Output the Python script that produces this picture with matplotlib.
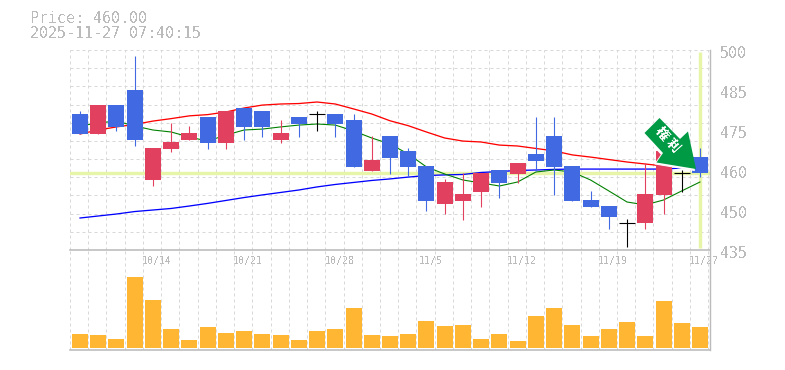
import matplotlib
matplotlib.use("Agg")
import matplotlib.pyplot as plt
from matplotlib.patches import Polygon

plt.rcParams['font.family'] = ['DejaVu Sans Mono']
plt.rcParams['text.antialiased'] = False

# ---- data ----
opens  = [479.2,472.7,482.1,487.0,457.75,467.8,470.75,478.2,469.8,481.15,480.2,470.75,478.2,479.2,479.2,477.25,460.7,472.05,467.2,462.3,450.0,450.9,453.85,461.0,459.7,466.2,472.05,462.3,451.25,449.3,443.8,443.8,452.9,460.0,465.2]
highs  = [480.2,482.1,482.1,498.05,468.15,476.3,475.3,478.2,480.2,481.15,480.2,477.25,478.2,480.2,479.2,479.2,472.05,472.05,468.15,462.3,458.1,460.0,460.0,461.0,463.3,478.2,478.2,462.3,454.2,449.3,445.1,463.3,467.2,461.0,468.15]
lows   = [472.7,472.7,473.7,468.8,455.8,466.85,470.75,467.8,467.8,470.75,471.7,469.8,471.7,473.7,471.7,462.0,460.7,459.7,458.7,447.7,446.7,444.75,449.0,451.9,456.8,460.7,452.9,450.9,449.0,441.8,436.0,441.8,446.7,453.85,458.7]
closes = [472.7,482.1,475.0,470.75,468.15,470.1,473.0,469.8,480.2,475.0,475.0,473.0,475.95,479.2,475.95,462.0,464.25,464.9,462.0,450.9,457.1,453.2,460.0,456.8,463.3,463.9,462.0,450.9,449.0,445.7,443.8,453.2,467.2,460.0,460.0]
ma_red   = [472.7,474.0,475.0,475.8,476.9,477.7,478.6,479.0,479.85,481.15,482.1,482.45,482.6,483.1,482.45,480.85,479.2,477.0,475.4,473.35,471.4,470.4,470.1,469.1,468.8,468.0,467.2,465.9,465.2,464.4,463.6,462.95,462.3,462.0,461.65]
ma_green = [475.3,476.3,476.9,475.3,474.0,473.35,471.7,470.4,472.35,474.0,474.3,475.0,475.6,475.95,475.6,473.7,471.4,469.45,466.2,462.0,459.7,457.75,456.8,455.8,457.1,460.35,461.0,460.35,457.75,454.2,450.6,449.65,451.25,454.2,457.1]
ma_blue  = [445.4,446.05,446.7,447.5,448.0,448.5,449.3,450.15,451.1,452.05,452.9,453.7,454.5,455.5,456.3,456.95,457.6,458.1,458.7,459.2,459.4,459.55,460.2,460.5,460.85,461.0,461.2,461.3,461.3,461.3,461.3,461.3,461.3,461.65,461.65]
volumes = [14,13,9,71,48,19,8,21,15,17,14,13,8,17,19,40,13,12,14,27,22,23,9,14,7,32,40,23,12,19,26,12,47,25,21]
price_ticks = [500,487,474,461,448,435]
price_labels = ['500','485','475','460','450','435']
date_idx = [4,9,14,19,24,29,34]
date_labels = ['10/14','10/21','10/28','11/5','11/12','11/19','11/27']
current_price = 460.0
title_lines = ['Price: 460.00','2025-11-27 07:40:15']
badge_text = '\u6a29\u5229'

# ---- style ----
W, H = 785, 370
BLUE, RED, ORANGE = '#4169E1', '#E2405F', '#FFB733'
LIME = '#E6F5A8'
GRID = '#D8D8D8'
AXC = '#BBBBBB'
TXT = '#BBBBBB'
px = 0.72
n = len(closes)
xs = list(range(n))
xlim = (-0.55, 34.55)
bw = 16 / 18.235

fig = plt.figure(figsize=(W/100, H/100), dpi=100, facecolor='white')
def axrect(l, t, r, b):
    return [l/W, 1-b/H, (r-l)/W, (b-t)/H]
ax = fig.add_axes(axrect(70, 50, 710, 250))
av = fig.add_axes(axrect(70, 250, 710, 349.5))
dash = (0, (3, 3))
for a in (ax, av):
    a.patch.set_visible(False)
    a.set_xlim(*xlim)
    a.set_xticks([])
    a.set_yticks([])
    for s in a.spines.values():
        s.set_visible(False)
    for i in range(n + 1):
        a.axvline(i - 0.55, color=GRID, lw=1.0*px, ls=dash, zorder=0)
ax.set_ylim(435, 500)
step = 65 / 11
for k in range(0, 11):
    ax.axhline(500 - k*step, color=GRID, lw=1.0*px, ls=dash, zorder=0)

ax.axhline(current_price, color=LIME, lw=3.4*px, zorder=1)
ax.plot([34, 34], [435.8, 499.5], color=LIME, lw=3.4*px, zorder=1, solid_capstyle='butt')
ax.plot(xs, ma_blue, color='#0000FF', lw=1.3*px, zorder=2)
ax.plot(xs, ma_red, color='#FF0000', lw=1.3*px, zorder=2)
ax.plot(xs, ma_green, color='#008000', lw=1.1*px, zorder=2)

for i, (o, h, l, c) in enumerate(zip(opens, highs, lows, closes)):
    col = 'black' if o == c else (RED if c > o else BLUE)
    ax.plot([i, i], [l, h], color=col, lw=1.1*px, zorder=3, solid_capstyle='butt')
    if o == c:
        ax.plot([i-bw/2, i+bw/2], [o, o], color='black', lw=1.1*px, zorder=3, solid_capstyle='butt')
    else:
        ax.bar(i, abs(c-o), bottom=min(o, c), width=bw, color=col, lw=0, zorder=4)

av.set_ylim(-1.5, 98)
av.bar(xs, volumes, width=bw, color=ORANGE, lw=0, zorder=3)

# frame lines
fig.add_artist(plt.Line2D([70/W, 710/W], [1-250/H]*2, color=AXC, lw=1.6*px))
fig.add_artist(plt.Line2D([70/W, 710/W], [1-349.5/H]*2, color=AXC, lw=1.6*px))
fig.add_artist(plt.Line2D([710.3/W]*2, [1-50/H, 1-350/H], color=AXC, lw=1.4*px))

# labels
for t, lab in zip(price_ticks, price_labels):
    ax.annotate(lab, (1, (t-435)/65), xycoords='axes fraction', xytext=(10*px, -4*px),
                textcoords='offset points', ha='left', va='center', color=TXT, fontsize=10.8)
for i, lab in zip(date_idx, date_labels):
    ax.annotate(lab, (i, 435), xycoords='data', xytext=(4*px, -11*px), textcoords='offset points',
                ha='center', va='center', color=TXT, fontsize=7.2, annotation_clip=False)
fig.text(30/W, 1-18.5/H, title_lines[0], color=TXT, fontsize=10.8, va='center', ha='left')
fig.text(30/W, 1-33/H, title_lines[1], color=TXT, fontsize=10.8, va='center', ha='left')

# arrow badge
pts_px = [(659.5,118),(644.5,133),(663,153),(656.5,162.5),(696,169),(688,131.5),(680,139)]
pts = [(x/W, 1-y/H) for x, y in pts_px]
shadow = [(x/W, 1-y/H) for x, y in [(p[0]-1.5, p[1]+1.5) for p in pts_px]]
fig.add_artist(Polygon(shadow, closed=True, transform=fig.transFigure, facecolor='white', edgecolor='white', lw=1.0*px, zorder=10))
fig.add_artist(Polygon(pts, closed=True, transform=fig.transFigure, facecolor='#009944', edgecolor='none', zorder=10.5))
fig.text(662/W, 1-133.5/H, badge_text[0], rotation=-48, rotation_mode='anchor', ha='center', va='center',
         color='white', fontsize=9.5, fontweight='bold', family=['Noto Sans CJK JP', 'DejaVu Sans'], zorder=11)
fig.text(673/W, 1-146/H, badge_text[1], rotation=-48, rotation_mode='anchor', ha='center', va='center',
         color='white', fontsize=9.5, fontweight='bold', family=['Noto Sans CJK JP', 'DejaVu Sans'], zorder=11)

fig.savefig('out.png', dpi=100, facecolor='white')
